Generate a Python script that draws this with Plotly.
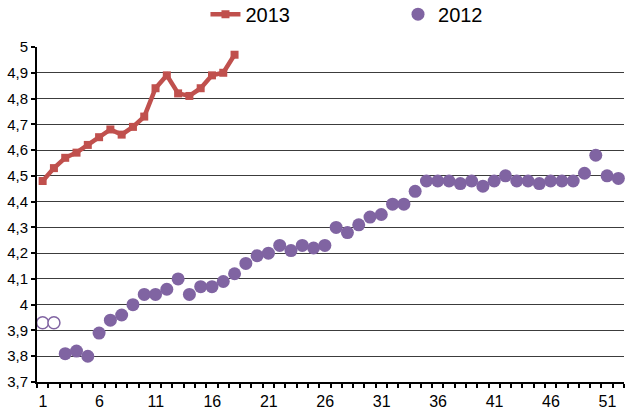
import plotly.graph_objects as go

weeks_2013 = list(range(1, 19))
values_2013 = [4.48, 4.53, 4.57, 4.59, 4.62, 4.65, 4.68, 4.66, 4.69, 4.73,
               4.84, 4.89, 4.82, 4.81, 4.84, 4.89, 4.90, 4.97]

weeks_2012 = list(range(1, 53))
values_2012 = [3.93, 3.93, 3.81, 3.82, 3.80, 3.89, 3.94, 3.96, 4.00, 4.04,
               4.04, 4.06, 4.10, 4.04, 4.07, 4.07, 4.09, 4.12, 4.16, 4.19,
               4.20, 4.23, 4.21, 4.23, 4.22, 4.23, 4.30, 4.28, 4.31, 4.34,
               4.35, 4.39, 4.39, 4.44, 4.48, 4.48, 4.48, 4.47, 4.48, 4.46,
               4.48, 4.50, 4.48, 4.48, 4.47, 4.48, 4.48, 4.48, 4.51, 4.58,
               4.50, 4.49]
hollow_weeks_2012 = [1, 2]

x_tick_labels = [1, 6, 11, 16, 21, 26, 31, 36, 41, 46, 51]

RED = "#C0504D"
PURPLE = "#8064A2"
FONT = "Liberation Sans, Arial, sans-serif"

solid_x = [w for w in weeks_2012 if w not in hollow_weeks_2012]
solid_y = [v for w, v in zip(weeks_2012, values_2012) if w not in hollow_weeks_2012]
hol_x = [w for w in weeks_2012 if w in hollow_weeks_2012]
hol_y = [v for w, v in zip(weeks_2012, values_2012) if w in hollow_weeks_2012]

# category-boundary ticks (Excel style), labels every 5th week
boundary_vals = [w - 0.5 for w in weeks_2012] + [weeks_2012[-1] + 0.5]
boundary_text = [str(w) if w in x_tick_labels else "" for w in weeks_2012] + [""]

PLOT_W = 625 - 37 - 1
label_shift = int(round(PLOT_W / (len(weeks_2012)) / 2))

fig = go.Figure()
fig.add_trace(go.Scatter(
    x=solid_x, y=solid_y, mode="markers", name="2012",
    marker=dict(color=PURPLE, size=13, line=dict(width=0)),
    legend="legend2", cliponaxis=False,
))
fig.add_trace(go.Scatter(
    x=hol_x, y=hol_y, mode="markers", name="2012", showlegend=False,
    marker=dict(color="white", size=12, line=dict(color=PURPLE, width=1.5)),
))
fig.add_trace(go.Scatter(
    x=weeks_2013, y=values_2013, mode="lines+markers", name="2013",
    line=dict(color=RED, width=4.5),
    marker=dict(symbol="square", size=8, color=RED),
    legend="legend",
))

fig.update_layout(
    width=625, height=416,
    margin=dict(l=37, r=1, t=47, b=34, autoexpand=False),
    paper_bgcolor="white", plot_bgcolor="white",
    separators=", ",
    font=dict(family=FONT, size=15, color="#000000"),
    legend=dict(orientation="h", x=0.287, y=1.098, xanchor="left", yanchor="middle",
                font=dict(size=20, family=FONT), bgcolor="rgba(0,0,0,0)"),
    legend2=dict(orientation="h", x=0.615, y=1.098, xanchor="left", yanchor="middle",
                 font=dict(size=20, family=FONT), bgcolor="rgba(0,0,0,0)"),
    xaxis=dict(
        range=[0.5, 52.5], tickmode="array", tickvals=boundary_vals,
        ticktext=boundary_text, ticklabelshift=label_shift,
        ticks="outside", ticklen=4, tickwidth=2, tickcolor="black",
        showgrid=False, zeroline=False, automargin=False,
        showline=True, linecolor="black", linewidth=2,
        tickfont=dict(size=16, family=FONT),
    ),
    yaxis=dict(
        range=[3.7, 5.0], tickmode="linear", tick0=3.7, dtick=0.1,
        showgrid=True, gridcolor="#3c3c3c", gridwidth=1.3,
        zeroline=False, showline=True, linecolor="black", linewidth=2,
        ticks="outside", ticklen=4, tickwidth=1.5, tickcolor="black",
        tickfont=dict(size=15, family=FONT), automargin=False,
    ),
)

fig.write_html("out.html", config={"displayModeBar": False},
               post_script="document.body.style.margin='0';document.body.style.overflow='hidden';")
